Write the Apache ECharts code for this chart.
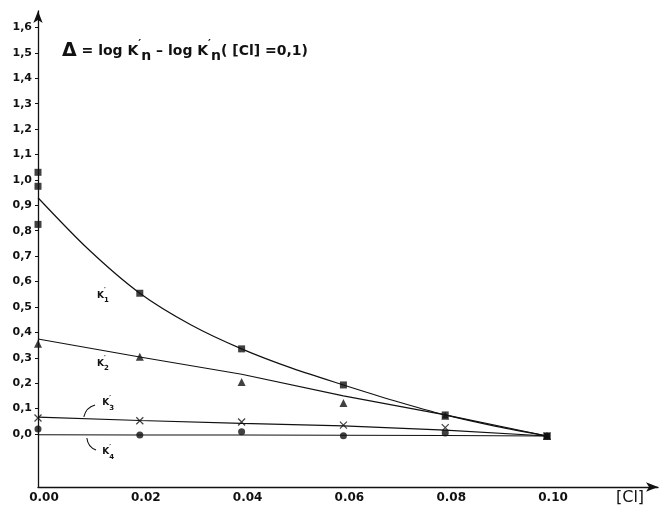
<!DOCTYPE html>
<html><head><meta charset="utf-8">
<script src="https://cdn.jsdelivr.net/npm/echarts@6/dist/echarts.min.js"></script>
<style>html,body{margin:0;padding:0;background:#fff}#c{width:661px;height:507px}</style>
</head><body><div id="c"></div>
<script>
// ---- data ----
const xTicks = [0, 0.02, 0.04, 0.06, 0.08, 0.10];
const yTicks = [0, 0.1, 0.2, 0.3, 0.4, 0.5, 0.6, 0.7, 0.8, 0.9, 1.0, 1.1, 1.2, 1.3, 1.4, 1.5, 1.6];

// measured points
const k1X = [0, 0, 0, 0.02, 0.04, 0.06, 0.08, 0.10];
const k1Y = [1.03, 0.975, 0.825, 0.554, 0.335, 0.193, 0.075, -0.008];
const k2X = [0, 0.02, 0.04, 0.06, 0.08, 0.10];
const k2Y = [0.355, 0.304, 0.205, 0.122, 0.072, -0.008];
const k3X = [0, 0.02, 0.04, 0.06, 0.08, 0.10];
const k3Y = [0.063, 0.052, 0.047, 0.035, 0.025, -0.008];
const k4X = [0, 0.02, 0.04, 0.06, 0.08, 0.10];
const k4Y = [0.02, -0.004, 0.009, -0.007, 0.004, -0.008];

// fitted curves
const fit1X = [0, 0.01, 0.02, 0.03, 0.04, 0.05, 0.06, 0.07, 0.08, 0.09, 0.10];
const fit1Y = [0.93, 0.725, 0.554, 0.430, 0.335, 0.258, 0.193, 0.131, 0.075, 0.030, -0.008];
const fit2X = [0, 0.02, 0.04, 0.06, 0.08, 0.10];
const fit2Y = [0.374, 0.303, 0.235, 0.150, 0.075, -0.008];
const fit3X = [0, 0.02, 0.04, 0.06, 0.08, 0.10];
const fit3Y = [0.066, 0.053, 0.042, 0.032, 0.015, -0.008];
const fit4X = [0, 0.02, 0.04, 0.06, 0.08, 0.10];
const fit4Y = [-0.003, -0.004, -0.004, -0.005, -0.006, -0.008];

const zip = (xs, ys) => xs.map((x, i) => [x, ys[i]]);
const INK = '#111';
const FONT = 'DejaVu Sans';

const chart = echarts.init(document.getElementById('c'), null, {renderer: 'canvas'});

const pointStyle = {color: INK};
function fitLine(xs, ys, smooth) {
  return {type: 'line', data: zip(xs, ys), showSymbol: false, smooth: smooth ? 0.3 : false,
    lineStyle: {color: INK, width: 1.2}, silent: true, z: 2};
}
function pts(xs, ys, symbol, size, style) {
  return {type: 'scatter', data: zip(xs, ys), symbol: symbol, symbolSize: size,
    itemStyle: style || pointStyle, z: 3, silent: true};
}

chart.setOption({
  animation: false,
  backgroundColor: '#fff',
  grid: {left: 38, right: 3, top: 11, bottom: 20},
  xAxis: {
    type: 'value', min: 0, max: 0.1218,
    axisLine: {onZero: false, lineStyle: {color: INK, width: 1.3}, symbol: ['none', 'arrow'], symbolSize: [7, 12]},
    axisTick: {show: false},
    splitLine: {show: false},
    axisLabel: {customValues: xTicks, formatter: v => v.toFixed(2), color: INK, fontFamily: FONT,
      fontSize: 12, fontWeight: 'bold', margin: 5, padding: [0, 0, 0, 12]}
  },
  yAxis: {
    type: 'value', min: -0.2087, max: 1.665,
    axisLine: {onZero: false, lineStyle: {color: INK, width: 1.3}, symbol: ['none', 'arrow'], symbolSize: [7, 12]},
    axisTick: {customValues: yTicks, length: 3, lineStyle: {color: INK}},
    splitLine: {show: false},
    axisLabel: {customValues: yTicks, formatter: v => v.toFixed(1).replace('.', ','), color: INK,
      fontFamily: FONT, fontSize: 11, fontWeight: 'bold', margin: 6}
  },
  series: [
    fitLine(fit1X, fit1Y, true),
    fitLine(fit2X, fit2Y, false),
    fitLine(fit3X, fit3Y, false),
    fitLine(fit4X, fit4Y, false),
    pts(k1X, k1Y, 'rect', 7),
    pts(k2X, k2Y, 'triangle', 8),
    pts(k3X, k3Y, 'path://M0,0L10,10M10,0L0,10', 7, {color: 'none', borderColor: INK, borderWidth: 1.2}),
    pts(k4X, k4Y, 'circle', 7)
  ]
});

// annotations
const px = (x, y) => chart.convertToPixel({gridIndex: 0}, [x, y]);
function kLabel(sub, x, y) {
  const p = px(x, y);
  return {type: 'group', x: p[0], y: p[1], silent: true, children: [
    {type: 'text', style: {text: 'K', x: 0, y: 0, font: 'bold 9px ' + FONT, fill: INK, verticalAlign: 'middle'}},
    {type: 'text', style: {text: '\u2032', x: 7, y: -5, font: 'bold 7px ' + FONT, fill: INK, verticalAlign: 'middle'}},
    {type: 'text', style: {text: sub, x: 7, y: 5, font: 'bold 7px ' + FONT, fill: INK, verticalAlign: 'middle'}}
  ]};
}
function leader(a, b, c) {
  const p1 = px(a[0], a[1]), p2 = px(b[0], b[1]), cp = px(c[0], c[1]);
  return {type: 'bezierCurve', silent: true,
    shape: {x1: p1[0], y1: p1[1], x2: p2[0], y2: p2[1], cpx1: cp[0], cpy1: cp[1]},
    style: {stroke: INK, lineWidth: 1.1, fill: null}};
}

chart.setOption({graphic: [
  {type: 'text', left: 62, top: 39, silent: true, style: {
    text: '{d|\u0394}{t| = log K}{p|\u2032}{s|n}{t| \u2013 log K}{p|\u2032}{s|n}{t|( [Cl] =0,1)}',
    rich: {
      d: {font: 'bold 19px ' + FONT, fill: INK, lineHeight: 24, verticalAlign: 'middle'},
      t: {font: 'bold 14px ' + FONT, fill: INK, lineHeight: 24, verticalAlign: 'middle'},
      p: {font: 'bold 11px ' + FONT, fill: INK, lineHeight: 24, verticalAlign: 'top'},
      s: {font: 'bold 14px ' + FONT, fill: INK, lineHeight: 24, verticalAlign: 'bottom'}
    }}},
  kLabel('1', 0.0116, 0.545),
  kLabel('2', 0.0116, 0.278),
  kLabel('3', 0.0126, 0.122),
  kLabel('4', 0.0126, -0.071),
  leader([0.0090, 0.067], [0.0112, 0.114], [0.0094, 0.104]),
  leader([0.0096, -0.016], [0.0114, -0.063], [0.0098, -0.052]),
  {type: 'text', x: 616, y: 490, silent: true, style: {text: '[Cl]', font: '16px ' + FONT, fill: INK}}
]});
</script></body></html>
